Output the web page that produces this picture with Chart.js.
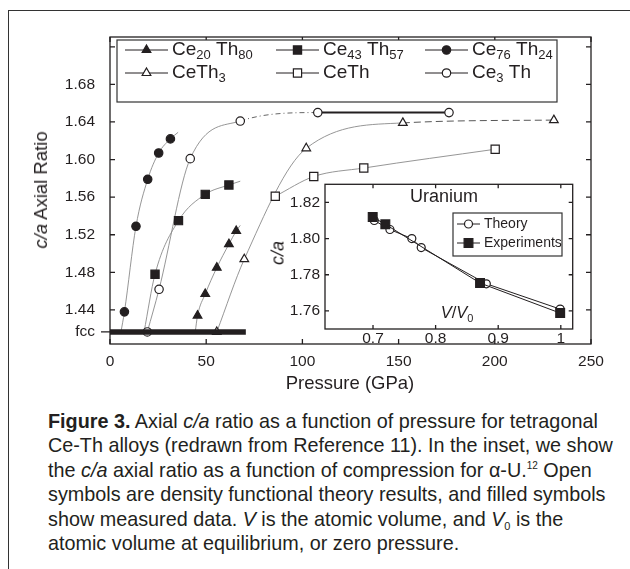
<!DOCTYPE html>
<html>
<head>
<meta charset="utf-8">
<script src="https://cdn.jsdelivr.net/npm/chart.js@4.4.0/dist/chart.umd.min.js"></script>
<style>
  body { margin: 0; background: #fff; width: 630px; height: 569px; overflow: hidden; position: relative;
         font-family: 'Liberation Sans', Arial, Helvetica, sans-serif; color: #231f20; }
  #frame { position: absolute; left: 8px; top: 10px; width: 700px; height: 600px;
           border-left: 1.5px solid #333; border-top: 1.5px solid #333; }
  canvas { position: absolute; }
  #main { left: 0; top: 0; }
  #inset { left: 270px; top: 170px; }
  .lbl { position: absolute; transform: translate(-50%, -50%); white-space: nowrap; }
  .rot { transform: translate(-50%, -50%) rotate(-90deg); }
  #caption { position: absolute; left: 48px; top: 409px; font-size: 19.8px; line-height: 24.4px; white-space: nowrap; }
  #caption div { height: 24.4px; }
  #caption sup { font-size: 10px; line-height: 0; vertical-align: baseline; position: relative; top: -8px; }
  #caption sub, .lbl sub { font-size: 11px; line-height: 0; vertical-align: baseline; position: relative; top: 4px; }
</style>
</head>
<body>
<div id="frame"></div>
<canvas id="main" width="630" height="400"></canvas>
<canvas id="inset" width="320" height="180"></canvas>

<div class="lbl rot" style="left:41px; top:190px; font-size:18.5px;"><i>c/a</i> Axial Ratio</div>
<div class="lbl" style="left:350px; top:383px; font-size:18.5px;">Pressure (GPa)</div>
<div class="lbl" style="left:444px; top:196px; font-size:18px;">Uranium</div>
<div class="lbl rot" style="left:278px; top:253px; font-size:18px;"><i>c/a</i></div>
<div class="lbl" style="left:457px; top:312px; font-size:16.5px;"><i>V</i>/<i>V</i><sub>0</sub></div>

<div id="caption">
  <div><b>Figure 3.</b> Axial <i>c/a</i> ratio as a function of pressure for tetragonal</div>
  <div>Ce-Th alloys (redrawn from Reference 11). In the inset, we show</div>
  <div>the <i>c/a</i> axial ratio as a function of compression for α-U.<sup>12</sup> Open</div>
  <div>symbols are density functional theory results, and filled symbols</div>
  <div>show measured data. <i>V</i> is the atomic volume, and <i>V</i><sub>0</sub> is the</div>
  <div>atomic volume at equilibrium, or zero pressure.</div>
</div>

<script>
const family = "'Liberation Sans', Arial, Helvetica, sans-serif";
const ink = '#231f20';
const guide = '#8a8a8a';

// ---- main panel: c/a vs pressure ----
const pressureTicks = [0, 50, 100, 150, 200, 250];
const ratioTicks = [1.4166, 1.44, 1.48, 1.52, 1.56, 1.60, 1.64, 1.68, 1.72];
const ratioTickLabels = ['fcc', '1.44', '1.48', '1.52', '1.56', '1.60', '1.64', '1.68', ''];
const fccRatio = 1.4166;
const fccBarP = [0, 70.6];

// filled symbols (measured)
const ce20Th80P  = [45.5, 49.5, 55.5, 61.8, 65.6];
const ce20Th80Ca = [1.434, 1.457, 1.485, 1.510, 1.524];
const ce43Th57P  = [23.4, 35.6, 49.5, 61.8];
const ce43Th57Ca = [1.478, 1.535, 1.563, 1.573];
const ce76Th24P  = [7.5, 13.5, 19.6, 25.3, 31.4];
const ce76Th24Ca = [1.438, 1.529, 1.579, 1.607, 1.622];

// open symbols (calculated)
const ceTh3P  = [55.5, 69.8, 102.0, 152.2, 230.7];
const ceTh3Ca = [1.4166, 1.494, 1.612, 1.639, 1.642];
const ceThP   = [85.9, 105.9, 131.9, 200.2];
const ceThCa  = [1.561, 1.582, 1.591, 1.611];
const ce3ThP  = [19.4, 25.5, 41.7, 67.7, 108.0, 176.2];
const ce3ThCa = [1.4166, 1.462, 1.601, 1.641, 1.650, 1.650];

// guide curves for the measured sets: leave the fcc line, run a bit past the last point
const ce20Th80CurveP  = [44.3, ...ce20Th80P, 67.7];
const ce20Th80CurveCa = [fccRatio, ...ce20Th80Ca, 1.530];
const ce43Th57CurveP  = [17.7, ...ce43Th57P, 67.7];
const ce43Th57CurveCa = [fccRatio, ...ce43Th57Ca, 1.577];
const ce76Th24CurveP  = [5.7, ...ce76Th24P, 35.4];
const ce76Th24CurveCa = [fccRatio, ...ce76Th24Ca, 1.629];

// ---- inset: alpha-U c/a vs V/V0 ----
const volumeTicks = [0.7, 0.8, 0.9, 1.0];
const volumeTickLabels = ['0.7', '0.8', '0.9', '1'];
const insetRatioTicks = [1.76, 1.78, 1.80, 1.82];
const theoryV  = [0.702, 0.727, 0.762, 0.777, 0.881, 0.999];
const theoryCa = [1.810, 1.805, 1.800, 1.795, 1.775, 1.761];
const exptV    = [0.6995, 0.7197, 0.871, 0.999];
const exptCa   = [1.8119, 1.8079, 1.7754, 1.7588];

const pts = (xs, ys) => xs.map((x, i) => ({ x: x, y: ys[i] }));

function markers(xs, ys, style, filled, r) {
  return {
    data: pts(xs, ys),
    showLine: false,
    pointStyle: style,
    pointRadius: r,
    pointBorderWidth: 1.2,
    pointBorderColor: ink,
    pointBackgroundColor: filled ? ink : '#fff',
  };
}

// segStyle: per-segment overrides, keyed by the segment's first point index
function curve(xs, ys, segStyle) {
  segStyle = segStyle || {};
  return {
    data: pts(xs, ys),
    showLine: true,
    pointRadius: 0,
    borderColor: guide,
    borderWidth: 0.9,
    cubicInterpolationMode: 'monotone',
    segment: {
      borderDash:  c => (segStyle[c.p0DataIndex] || {}).dash,
      borderWidth: c => (segStyle[c.p0DataIndex] || {}).width,
      borderColor: c => (segStyle[c.p0DataIndex] || {}).color,
    },
  };
}

function drawMarker(ctx, style, x, y, r, filled) {
  ctx.save();
  ctx.beginPath();
  if (style === 'circle') {
    ctx.arc(x, y, r, 0, Math.PI * 2);
  } else if (style === 'rect') {
    const s = r * Math.SQRT1_2;
    ctx.rect(x - s, y - s, 2 * s, 2 * s);
  } else {
    ctx.moveTo(x, y - r);
    ctx.lineTo(x + r * 0.866, y + r / 2);
    ctx.lineTo(x - r * 0.866, y + r / 2);
    ctx.closePath();
  }
  ctx.fillStyle = filled ? ink : '#fff';
  ctx.fill();
  ctx.lineWidth = 1.2;
  ctx.strokeStyle = ink;
  ctx.stroke();
  ctx.restore();
}

// text with _{..} subscripts
function drawRich(ctx, text, x, y, size, subSize) {
  const parts = text.split(/(_\{[^}]*\})/).filter(s => s.length);
  ctx.textBaseline = 'middle';
  ctx.textAlign = 'left';
  ctx.fillStyle = ink;
  parts.forEach(p => {
    if (p.startsWith('_{')) {
      const t = p.slice(2, -1);
      ctx.font = subSize + 'px ' + family;
      ctx.fillText(t, x, y + size * 0.3);
      x += ctx.measureText(t).width;
    } else {
      ctx.font = size + 'px ' + family;
      ctx.fillText(p, x, y);
      x += ctx.measureText(p).width;
    }
  });
}

// box around the plot area with inward ticks
const boxTicks = {
  id: 'boxTicks',
  afterDraw(chart, args, opts) {
    const { ctx, chartArea: a, scales } = chart;
    const len = opts.len || 5;
    ctx.save();
    ctx.strokeStyle = ink;
    ctx.lineWidth = 1.3;
    ctx.strokeRect(a.left, a.top, a.right - a.left, a.bottom - a.top);
    ctx.beginPath();
    scales.x.ticks.forEach(t => {
      const px = scales.x.getPixelForValue(t.value);
      ctx.moveTo(px, a.bottom); ctx.lineTo(px, a.bottom - len);
      ctx.moveTo(px, a.top); ctx.lineTo(px, a.top + len);
    });
    scales.y.ticks.forEach(t => {
      const py = scales.y.getPixelForValue(t.value);
      if (t.label === 'fcc') {
        ctx.moveTo(a.left - 9, py); ctx.lineTo(a.left, py);
        return;
      }
      ctx.moveTo(a.left, py); ctx.lineTo(a.left + len, py);
      ctx.moveTo(a.right, py); ctx.lineTo(a.right - len, py);
    });
    ctx.stroke();
    ctx.restore();
  }
};

const whiteArea = {
  id: 'whiteArea',
  beforeDraw(chart) {
    const { ctx, chartArea: a } = chart;
    ctx.save();
    ctx.fillStyle = '#fff';
    ctx.fillRect(a.left, a.top, a.right - a.left, a.bottom - a.top);
    ctx.restore();
  }
};

// legend drawn as a boxed grid of line samples + symbols
const boxLegend = {
  id: 'boxLegend',
  afterDraw(chart, args, o) {
    const ctx = chart.ctx;
    ctx.save();
    ctx.fillStyle = '#fff';
    ctx.fillRect(o.box[0], o.box[1], o.box[2], o.box[3]);
    ctx.strokeStyle = '#333';
    ctx.lineWidth = 1.2;
    ctx.strokeRect(o.box[0], o.box[1], o.box[2], o.box[3]);
    o.items.forEach((it, i) => {
      const x = o.cols[i % o.cols.length];
      const y = o.rows[Math.floor(i / o.cols.length)];
      ctx.beginPath();
      ctx.strokeStyle = ink;
      ctx.lineWidth = 1;
      ctx.moveTo(x, y); ctx.lineTo(x + o.lineLen, y);
      ctx.stroke();
      drawMarker(ctx, it.style, x + o.lineLen / 2, y, it.r, it.filled);
      drawRich(ctx, it.text, x + o.lineLen + 4, y, o.size, o.subSize);
    });
    ctx.restore();
  }
};

const tickFont = { family: family, size: 15.5 };

new Chart(document.getElementById('main'), {
  type: 'scatter',
  data: {
    datasets: [
      // fcc reference bar (sits on top of the open symbols that touch it)
      { data: [{ x: fccBarP[0], y: fccRatio }, { x: fccBarP[1], y: fccRatio }], showLine: true,
        borderColor: ink, borderWidth: 5.5, pointRadius: 0, borderCapStyle: 'butt' },
      markers(ce20Th80P, ce20Th80Ca, 'triangle', true, 5),
      markers(ce43Th57P, ce43Th57Ca, 'rect', true, 5.8),
      markers(ce76Th24P, ce76Th24Ca, 'circle', true, 4.2),
      markers(ceTh3P, ceTh3Ca, 'triangle', false, 5),
      markers(ceThP, ceThCa, 'rect', false, 5.8),
      markers(ce3ThP, ce3ThCa, 'circle', false, 4.2),
      curve(ce20Th80CurveP, ce20Th80CurveCa),
      curve(ce43Th57CurveP, ce43Th57CurveCa),
      curve(ce76Th24CurveP, ce76Th24CurveCa),
      curve(ceTh3P, ceTh3Ca, { 3: { dash: [7, 4], color: '#444' } }),
      curve(ceThP, ceThCa),
      curve(ce3ThP, ce3ThCa, { 3: { dash: [5, 3, 1, 3], color: '#555' }, 4: { width: 2, color: ink } }),
    ]
  },
  options: {
    responsive: false,
    animation: false,
    events: [],
    layout: { padding: { left: 0, right: 39, top: 37, bottom: 16 } },
    plugins: {
      legend: { display: false },
      tooltip: { enabled: false },
      boxTicks: { len: 5 },
      boxLegend: {
        box: [117, 40, 440, 62],
        cols: [125, 276, 425],
        rows: [50, 73],
        lineLen: 43,
        size: 19,
        subSize: 13,
        items: [
          { text: 'Ce_{20} Th_{80}', style: 'triangle', filled: true, r: 5 },
          { text: 'Ce_{43} Th_{57}', style: 'rect', filled: true, r: 5.8 },
          { text: 'Ce_{76} Th_{24}', style: 'circle', filled: true, r: 4.2 },
          { text: 'CeTh_{3}', style: 'triangle', filled: false, r: 5 },
          { text: 'CeTh', style: 'rect', filled: false, r: 5.8 },
          { text: 'Ce_{3} Th', style: 'circle', filled: false, r: 4.2 },
        ]
      }
    },
    scales: {
      x: {
        type: 'linear', min: 0, max: 250,
        afterBuildTicks: s => { s.ticks = pressureTicks.map(v => ({ value: v })); },
        afterFit: s => { s.height = 40; },
        grid: { display: false, drawTicks: false },
        border: { display: false },
        ticks: { padding: 8.5, font: tickFont, color: ink, maxRotation: 0, callback: v => String(v) }
      },
      y: {
        type: 'linear', min: 1.4038, max: 1.7304,
        afterBuildTicks: s => { s.ticks = ratioTicks.map(v => ({ value: v })); },
        afterFit: s => { s.width = 110; },
        grid: { display: false, drawTicks: false },
        border: { display: false },
        ticks: { padding: 15, font: tickFont, color: ink, callback: (v, i) => ratioTickLabels[i] }
      }
    }
  },
  plugins: [boxTicks, boxLegend]
});

new Chart(document.getElementById('inset'), {
  type: 'scatter',
  data: {
    datasets: [
      Object.assign(markers(exptV, exptCa, 'rect', true, 6.2),
        { showLine: true, borderColor: ink, borderWidth: 1 }),
      Object.assign(markers(theoryV, theoryCa, 'circle', false, 4),
        { showLine: true, borderColor: ink, borderWidth: 1 }),
    ]
  },
  options: {
    responsive: false,
    animation: false,
    events: [],
    layout: { padding: { left: 0, right: 17.3, top: 8, bottom: 0 } },
    plugins: {
      legend: { display: false },
      tooltip: { enabled: false },
      boxTicks: { len: 4 },
      boxLegend: {
        box: [183, 43, 109, 43],
        cols: [187],
        rows: [54, 73],
        lineLen: 23,
        size: 14,
        subSize: 10,
        items: [
          { text: 'Theory', style: 'circle', filled: false, r: 4 },
          { text: 'Experiments', style: 'rect', filled: true, r: 6.2 },
        ]
      }
    },
    scales: {
      x: {
        type: 'linear', min: 0.6233, max: 1.019,
        afterBuildTicks: s => { s.ticks = volumeTicks.map(v => ({ value: v })); },
        afterFit: s => { s.height = 21; },
        grid: { display: false, drawTicks: false },
        border: { display: false },
        ticks: { padding: 0, font: tickFont, color: ink, maxRotation: 0, callback: (v, i) => volumeTickLabels[i] }
      },
      y: {
        type: 'linear', min: 1.75, max: 1.83,
        afterBuildTicks: s => { s.ticks = insetRatioTicks.map(v => ({ value: v })); },
        afterFit: s => { s.width = 55; },
        grid: { display: false, drawTicks: false },
        border: { display: false },
        ticks: { padding: 5, font: tickFont, color: ink, callback: v => v.toFixed(2) }
      }
    }
  },
  plugins: [whiteArea, boxTicks, boxLegend]
});
</script>
</body>
</html>
